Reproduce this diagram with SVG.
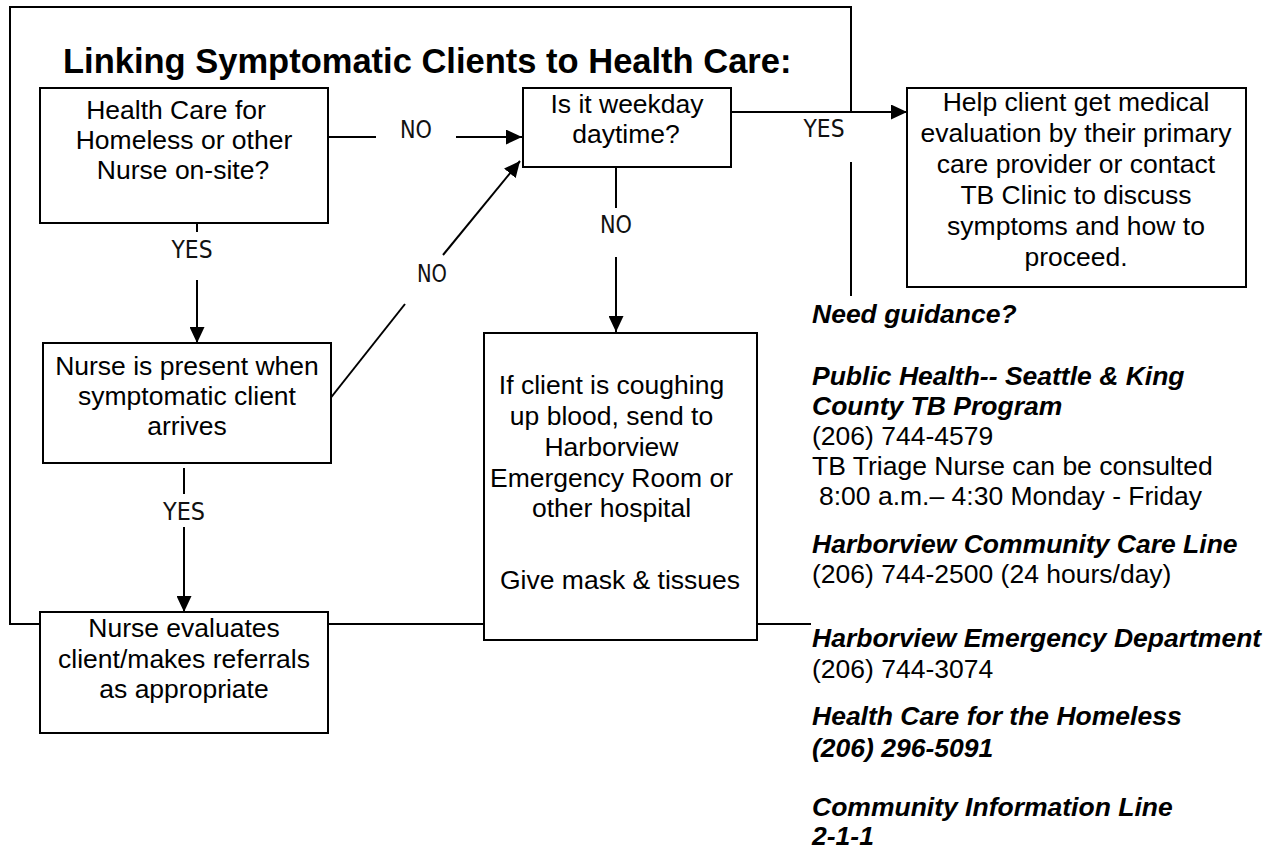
<svg xmlns="http://www.w3.org/2000/svg" width="1278" height="852" viewBox="0 0 1278 852">
<style>
.box{fill:#fff;stroke:#000;stroke-width:2}
.ln{stroke:#000;stroke-width:2;fill:none}
.t{font-family:"Liberation Sans",Arial,sans-serif;font-size:26.5px;fill:#000;text-anchor:middle}
.r{font-family:"Liberation Sans",Arial,sans-serif;font-size:26.5px;fill:#000}
.bi{font-weight:bold;font-style:italic}
.lbl{font-family:"Liberation Sans Narrow","Arial Narrow","DejaVu Sans Condensed","Liberation Sans",sans-serif;font-size:25px;fill:#111;text-anchor:middle}
.title{font-family:"Liberation Sans",Arial,sans-serif;font-size:34.5px;font-weight:bold;fill:#000}
</style>
<defs>
<marker id="ah" markerWidth="16" markerHeight="15" refX="16" refY="7.5" orient="auto" markerUnits="userSpaceOnUse">
<path d="M0,0 L16,7.5 L0,15 z" fill="#000"/>
</marker>
</defs>
<rect width="1278" height="852" fill="#fff"/>

<g id="frame">
<path class="ln" d="M851,112 V7 H10 V624 H40 M328,624 H484 M757,624 H811 M851,162 V296"/>
</g>

<text class="title" x="63" y="73">Linking Symptomatic Clients to Health Care:</text>

<g id="connectors">
<path class="ln" d="M328,137 H376"/>
<path class="ln" d="M456,137 H522" marker-end="url(#ah)"/>
<text class="lbl" x="416" y="138" textLength="32" lengthAdjust="spacingAndGlyphs">NO</text>

<path class="ln" d="M731,112 H907" marker-end="url(#ah)"/>
<text class="lbl" x="824" y="137" textLength="41" lengthAdjust="spacingAndGlyphs">YES</text>

<path class="ln" d="M197,215 V232"/>
<text class="lbl" x="192" y="258" textLength="41" lengthAdjust="spacingAndGlyphs">YES</text>
<path class="ln" d="M197,280 V343" marker-end="url(#ah)"/>

<path class="ln" d="M329,400 L405,304"/>
<text class="lbl" x="432" y="282" textLength="30" lengthAdjust="spacingAndGlyphs">NO</text>
<path class="ln" d="M443,255 L520,161" marker-end="url(#ah)"/>

<path class="ln" d="M616,160 V208"/>
<text class="lbl" x="616" y="233" textLength="32" lengthAdjust="spacingAndGlyphs">NO</text>
<path class="ln" d="M616,257 V332" marker-end="url(#ah)"/>

<path class="ln" d="M184,468 V494"/>
<text class="lbl" x="184" y="520" textLength="42" lengthAdjust="spacingAndGlyphs">YES</text>
<path class="ln" d="M184,527 V612" marker-end="url(#ah)"/>
</g>

<g id="n-hch">
<rect class="box" x="40" y="88" width="288" height="135"/>
<text class="t" x="176" y="119">Health Care for</text>
<text class="t" x="184" y="149">Homeless or other</text>
<text class="t" x="183" y="179">Nurse on-site?</text>
</g>

<g id="n-weekday">
<rect class="box" x="523" y="88" width="208" height="79"/>
<text class="t" x="627" y="113">Is it weekday</text>
<text class="t" x="626" y="143">daytime?</text>
</g>

<g id="n-help">
<rect class="box" x="907" y="88" width="339" height="199"/>
<text class="t" x="1076" y="111">Help client get medical</text>
<text class="t" x="1076" y="142">evaluation by their primary</text>
<text class="t" x="1076" y="173">care provider or contact</text>
<text class="t" x="1076" y="204">TB Clinic to discuss</text>
<text class="t" x="1076" y="235">symptoms and how to</text>
<text class="t" x="1076" y="266">proceed.</text>
</g>

<g id="n-present">
<rect class="box" x="43" y="343" width="288" height="120"/>
<text class="t" x="187" y="375">Nurse is present when</text>
<text class="t" x="187" y="405">symptomatic client</text>
<text class="t" x="187" y="435">arrives</text>
</g>

<g id="n-cough">
<rect class="box" x="484" y="333" width="273" height="307"/>
<text class="t" x="611.5" y="394">If client is coughing</text>
<text class="t" x="611.5" y="425">up blood, send to</text>
<text class="t" x="611.5" y="456">Harborview</text>
<text class="t" x="611.5" y="487">Emergency Room or</text>
<text class="t" x="611.5" y="517">other hospital</text>
<text class="t" x="620" y="589">Give mask &amp; tissues</text>
</g>

<g id="n-evaluate">
<rect class="box" x="40" y="612" width="288" height="121"/>
<text class="t" x="184" y="637">Nurse evaluates</text>
<text class="t" x="184" y="668">client/makes referrals</text>
<text class="t" x="184" y="698">as appropriate</text>
</g>

<g id="guidance">
<text class="r bi" x="812" y="323">Need guidance?</text>
<text class="r bi" x="812" y="385">Public Health-- Seattle &amp; King</text>
<text class="r bi" x="812" y="415">County TB Program</text>
<text class="r" x="812" y="445">(206) 744-4579</text>
<text class="r" x="812" y="475">TB Triage Nurse can be consulted</text>
<text class="r" x="819" y="505">8:00 a.m.– 4:30 Monday - Friday</text>
<text class="r bi" x="812" y="553">Harborview Community Care Line</text>
<text class="r" x="812" y="583">(206) 744-2500 (24 hours/day)</text>
<text class="r bi" x="812" y="647">Harborview Emergency Department</text>
<text class="r" x="812" y="678">(206) 744-3074</text>
<text class="r bi" x="812" y="725">Health Care for the Homeless</text>
<text class="r bi" x="812" y="757">(206) 296-5091</text>
<text class="r bi" x="812" y="816">Community Information Line</text>
<text class="r bi" x="812" y="845">2-1-1</text>
</g>
</svg>
